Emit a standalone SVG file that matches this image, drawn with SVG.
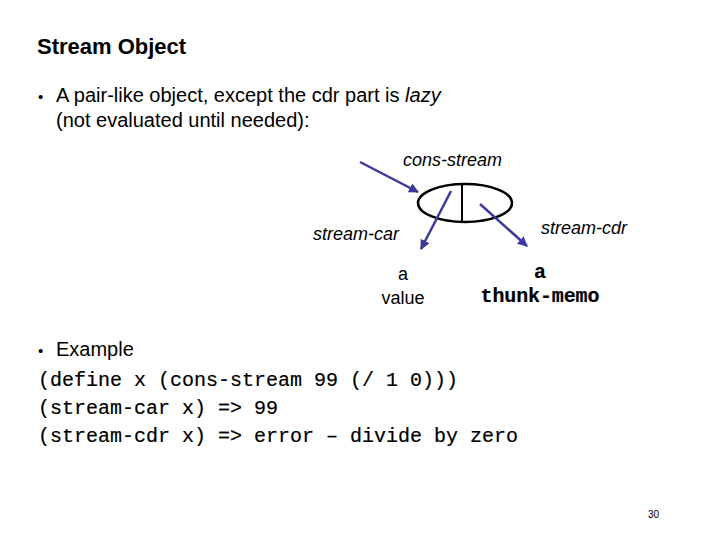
<svg xmlns="http://www.w3.org/2000/svg" width="720" height="540" viewBox="0 0 720 540">
<style>
.s{font-family:"Liberation Sans",Arial,sans-serif;fill:#000}
.i{font-family:"Liberation Sans",Arial,sans-serif;font-style:italic;font-size:18px}
.m{font-family:"Liberation Mono","Courier New",monospace;font-size:20px;stroke:#000;stroke-width:0.2}
.a{stroke:#3b3b9e;stroke-width:2.5;fill:none;marker-end:url(#ah)}
</style>
<defs><marker id="ah" viewBox="0 0 10 10" refX="9" refY="5" markerWidth="4" markerHeight="4" orient="auto"><path d="M0,0L10,5L0,10z" fill="#3b3b9e"/></marker></defs>
<rect width="720" height="540" fill="#fff"/>
<text class="s" x="37" y="54" font-size="22" font-weight="bold">Stream Object</text>
<text class="s" x="38" y="102" font-size="15">•</text>
<text class="s" x="56" y="102" font-size="20">A pair-like object, except the cdr part is <tspan font-style="italic">lazy</tspan></text>
<text class="s" x="56" y="127" font-size="20">(not evaluated until needed):</text>
<g id="cell">
<ellipse cx="465" cy="203" rx="47" ry="19" fill="none" stroke="#000" stroke-width="2.5"/>
<line x1="462" y1="185" x2="462" y2="221" stroke="#000" stroke-width="2"/>
</g>
<g id="connectors">
<line class="a" x1="360" y1="162" x2="418" y2="192"/>
<line class="a" x1="451" y1="191" x2="421" y2="249"/>
<line class="a" x1="480" y1="204" x2="527" y2="246"/>
</g>
<g id="labels">
<text class="i" x="403" y="166">cons-stream</text>
<text class="i" x="313" y="240">stream-car</text>
<text class="i" x="541" y="234">stream-cdr</text>
<text class="s" x="403" y="280" font-size="18" text-anchor="middle">a</text>
<text class="s" x="403" y="304" font-size="18" text-anchor="middle">value</text>
<text class="m" x="540" y="278" font-size="18" text-anchor="middle" font-weight="bold" stroke-width="0">a</text>
<text class="m" x="540" y="302" font-size="18" text-anchor="middle" font-weight="bold" stroke-width="0" textLength="119">thunk-memo</text>
</g>
<text class="s" x="38" y="356" font-size="15">•</text>
<text class="s" x="56" y="356" font-size="20">Example</text>
<text class="m" x="38" y="386">(define x (cons-stream 99 (/ 1 0)))</text>
<text class="m" x="38" y="414">(stream-car x) =&gt; 99</text>
<text class="m" x="38" y="442">(stream-cdr x) =&gt; error – divide by zero</text>
<text class="s" x="659" y="518" font-size="10" text-anchor="end">30</text>
</svg>
